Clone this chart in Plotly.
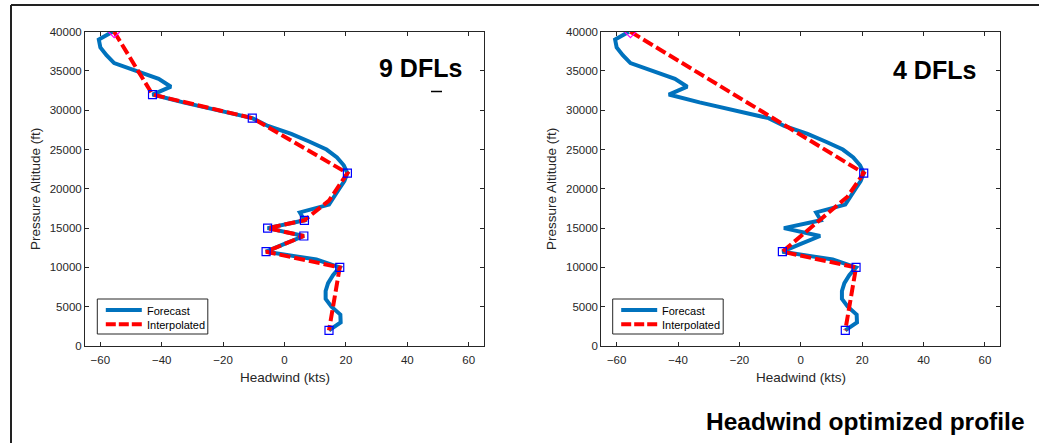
import plotly.graph_objects as go

# ---------------- data ----------------
alt_forecast = [40000, 39000, 38000, 37000, 36000, 35000, 34000, 33000, 32000, 31000,
                30000, 29000, 28000, 27000, 26000, 25000, 24000, 23000, 22000, 21000,
                20000, 19000, 18000, 17000, 16000, 15000, 14000, 13000, 12000, 11000,
                10000, 9000, 8000, 7000, 6000, 5000, 4000, 3000, 2000]
hw_forecast = [-56, -60.5, -60, -58, -55.5, -48, -41, -37, -43, -33,
               -21, -10.5, -5.4, 2.2, 8.2, 13.7, 17.1, 19.3, 20.5, 19.5,
               17.8, 16, 14.5, 5, 6.5, -5.5, 6.3, 0, -6, 10.4,
               18, 15.8, 14.2, 13.4, 13.4, 15.3, 18.2, 18.3, 14.5]

# 9 DFL interpolation
alt_interp9 = [40000, 32000, 29000, 22000, 18500, 16000, 15000, 14000, 12000, 10000, 2000]
hw_interp9 = [-55.5, -43, -10.5, 20.5, 14.5, 6.5, -5.5, 6.3, -6, 18, 14.5]
alt_dfl9 = [32000, 29000, 22000, 16000, 15000, 14000, 12000, 10000, 2000]
hw_dfl9 = [-43, -10.5, 20.5, 6.5, -5.5, 6.3, -6, 18, 14.5]

# 4 DFL interpolation
alt_interp4 = [40000, 22000, 19000, 12000, 10000, 2000]
hw_interp4 = [-55.5, 20.5, 15.2, -6, 18, 14.5]
alt_dfl4 = [22000, 12000, 10000, 2000]
hw_dfl4 = [20.5, -6, 18, 14.5]

top_alt = [40000]
top_hw = [-55.5]

x_ticks = [-60, -40, -20, 0, 20, 40, 60]
y_ticks = [0, 5000, 10000, 15000, 20000, 25000, 30000, 35000, 40000]
legend_labels = ["Forecast", "Interpolated"]

# ---------------- layout helpers ----------------
W, H = 1039, 443
FONT = "Liberation Sans, Arial, sans-serif"
AX = "#262626"
BLUE = "#0072BD"
RED = "#FF0000"
DASH = "11px,4px"

def px(x):
    return x / W

def py(y):
    return 1 - y / H

fig = go.Figure()

def add_panel(xa, ya, alt_i, hw_i, alt_d, hw_d):
    fig.add_trace(go.Scatter(x=hw_forecast, y=alt_forecast, mode="lines", name=legend_labels[0],
                             line=dict(color=BLUE, width=4), xaxis=xa, yaxis=ya, showlegend=False))
    fig.add_trace(go.Scatter(x=hw_i, y=alt_i, mode="lines", name=legend_labels[1],
                             line=dict(color=RED, width=4, dash=DASH),
                             xaxis=xa, yaxis=ya, showlegend=False))
    fig.add_trace(go.Scatter(x=hw_d, y=alt_d, mode="markers", showlegend=False,
                             marker=dict(symbol="square-open", size=8, color="#0000FF",
                                         line=dict(width=1.2, color="#0000FF")),
                             xaxis=xa, yaxis=ya))
    fig.add_trace(go.Scatter(x=top_hw, y=top_alt, mode="markers", showlegend=False,
                             marker=dict(symbol="diamond-open", size=9, color="#FF00FF",
                                         line=dict(width=1.2, color="#FF00FF")),
                             xaxis=xa, yaxis=ya))

add_panel("x", "y", alt_interp9, hw_interp9, alt_dfl9, hw_dfl9)
add_panel("x2", "y2", alt_interp4, hw_interp4, alt_dfl4, hw_dfl4)

def xax(dom, anchor):
    return dict(domain=dom, anchor=anchor, range=[-65, 65], tickvals=x_ticks,
                ticks="inside", ticklen=4, tickcolor=AX, showline=True, linecolor=AX,
                linewidth=1, mirror="ticks", showgrid=False, zeroline=False, automargin=False,
                ticklabelstandoff=3,
                tickfont=dict(size=11.5, color=AX, family=FONT))

def yax(dom, anchor):
    return dict(domain=dom, anchor=anchor, range=[0, 40000], tickvals=y_ticks,
                tickformat="d",
                ticks="inside", ticklen=4, tickcolor=AX, showline=True, linecolor=AX,
                linewidth=1, mirror="ticks", showgrid=False, zeroline=False, automargin=False,
                tickfont=dict(size=11.5, color=AX, family=FONT))

ydom = [py(346), py(31.7)]
fig.update_layout(
    width=W, height=H, autosize=False,
    margin=dict(l=0, r=0, t=0, b=0, pad=0, autoexpand=False),
    paper_bgcolor="white", plot_bgcolor="white",
    xaxis=xax([px(85), px(484)], "y"),
    yaxis=yax(ydom, "x"),
    xaxis2=xax([px(601.3), px(1000.3)], "y2"),
    yaxis2=yax(ydom, "x2"),
    font=dict(family=FONT),
    showlegend=False,
)

ann = []
shapes = []

def text(x, y, s, size, bold=False, angle=0, xanchor="center", color=None):
    ann.append(dict(x=px(x), y=py(y), xref="paper", yref="paper",
                    text=("<b>%s</b>" % s) if bold else s,
                    showarrow=False, textangle=angle, xanchor=xanchor, yanchor="middle",
                    font=dict(size=size, color=color or ("#000000" if bold else AX), family=FONT)))

def pline(x0, y0, x1, y1, color, width, dash=None):
    d = dict(color=color, width=width)
    if dash:
        d["dash"] = dash
    shapes.append(dict(type="line", xref="paper", yref="paper",
                       x0=px(x0), x1=px(x1), y0=py(y0), y1=py(y1), line=d))

def legend_box(x0):
    shapes.append(dict(type="rect", xref="paper", yref="paper",
                       x0=px(x0), x1=px(x0 + 110.5), y0=py(299), y1=py(334),
                       fillcolor="white", line=dict(color=AX, width=1)))
    pline(x0 + 8.5, 310, x0 + 44.5, 310, BLUE, 4)
    pline(x0 + 8.5, 324.3, x0 + 44.5, 324.3, RED, 4, "10px,3px")
    text(x0 + 47.5, 310.5, legend_labels[0], 11, xanchor="left", color="#000000")
    text(x0 + 47.5, 324.8, legend_labels[1], 11, xanchor="left", color="#000000")

legend_box(97.3)
legend_box(612.7)

text(284.5, 377, "Headwind (kts)", 13.5)
text(800.8, 377, "Headwind (kts)", 13.5)
text(35, 189, "Pressure Altitude (ft)", 13.5, angle=-90)
text(551, 189, "Pressure Altitude (ft)", 13.5, angle=-90)
text(420.5, 68, "9 DFLs", 25, bold=True)
text(934, 70, "4 DFLs", 25, bold=True)
text(865, 421, "Headwind optimized profile", 24.5, bold=True)

# figure frame (continues beyond the right and bottom edges)
pline(11, 5, 11, 443, "#222222", 2)
pline(11, 5, 1039, 5, "#222222", 2)
# small stray mark under "9 DFLs"
pline(431, 91.5, 442, 91.5, "#000000", 1.5)

fig.update_layout(annotations=ann, shapes=shapes)

fig.write_html("out.html")
